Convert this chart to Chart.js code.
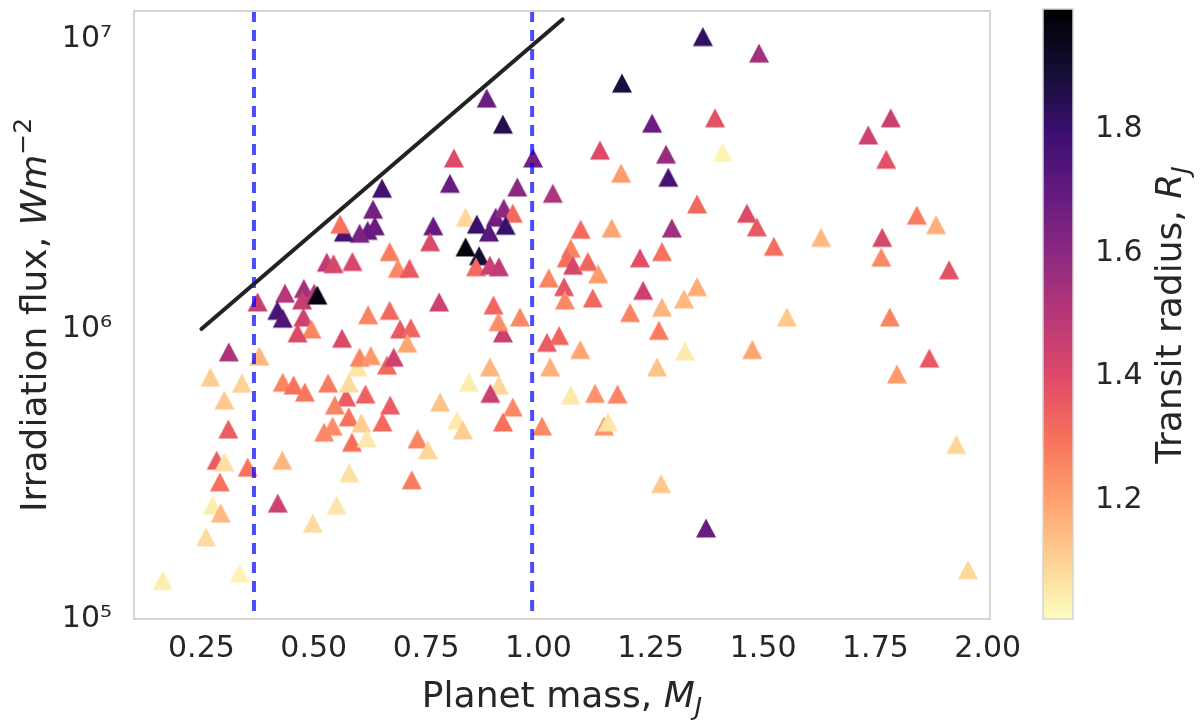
<!DOCTYPE html>
<html>
<head>
<meta charset="utf-8">
<script src="https://cdn.jsdelivr.net/npm/chart.js@4.4.0/dist/chart.umd.min.js"></script>
<style>
  html, body { margin: 0; padding: 0; background: #fff; }
  #wrap { width: 1200px; height: 724px; position: relative; }
</style>
</head>
<body>
<div id="wrap"><canvas id="chart"></canvas></div>
<script>
// planet mass (M_J), irradiation flux (W m^-2), transit radius (R_J)
const massMJ = [
  1.366, 1.491, 1.186, 1.393, 1.253, 0.921, 1.784, 1.734, 1.774, 1.137,
  1.410, 1.284, 0.988, 1.184, 1.289, 0.953, 1.032, 1.353, 1.464, 1.486,
  1.524, 1.629, 1.842, 1.885, 1.765, 1.763, 1.914, 1.782, 1.553, 1.297,
  1.163, 1.094, 1.072, 1.063, 1.077, 1.110, 1.133, 1.226, 1.275, 1.023,
  1.057, 1.059, 1.121, 1.233, 1.353, 1.324, 1.275, 1.204, 1.268, 0.959,
  0.921, 1.019, 1.046, 1.093, 1.326, 1.476, 1.870, 1.798, 1.026, 1.264,
  0.943, 0.921, 1.008, 1.072, 1.126, 1.176, 1.146, 1.155, 1.273, 1.373,
  1.930, 1.956, 0.885, 0.812, 0.803, 0.652, 0.632, 0.636, 0.620, 0.602,
  0.567, 0.559, 0.766, 0.759, 0.838, 0.863, 0.890, 0.905, 0.923, 0.943,
  0.927, 0.838, 0.868, 0.861, 0.892, 0.912, 0.669, 0.687, 0.713, 0.529,
  0.544, 0.586, 0.375, 0.436, 0.478, 0.474, 0.501, 0.508, 0.419, 0.431,
  0.477, 0.495, 0.464, 0.779, 0.621, 0.669, 0.692, 0.716, 0.563, 0.708,
  0.900, 0.911, 0.311, 0.379, 0.270, 0.340, 0.301, 0.310, 0.284, 0.301,
  0.353, 0.291, 0.275, 0.293, 0.260, 0.164, 0.335, 0.431, 0.455, 0.480,
  0.430, 0.420, 0.498, 0.551, 0.579, 0.532, 0.572, 0.547, 0.615, 0.578,
  0.542, 0.523, 0.585, 0.606, 0.618, 0.597, 0.578, 0.602, 0.627, 0.663,
  0.678, 0.670, 0.653, 0.731, 0.754, 0.718, 0.781, 0.819, 0.832, 0.845,
  0.892, 0.912, 0.893
];
const fluxWm2 = [
  1.02e7, 8.95e6, 7.05e6, 5.35e6, 5.13e6, 5.09e6, 5.35e6, 4.67e6, 3.85e6, 4.14e6,
  4.07e6, 4.01e6, 3.89e6, 3.45e6, 3.34e6, 3.09e6, 2.94e6, 2.70e6, 2.51e6, 2.25e6,
  1.93e6, 2.07e6, 2.47e6, 2.29e6, 2.07e6, 1.77e6, 1.60e6, 1.10e6, 1.10e6, 2.23e6,
  2.23e6, 2.21e6, 1.90e6, 1.76e6, 1.66e6, 1.71e6, 1.55e6, 1.76e6, 1.85e6, 1.50e6,
  1.40e6, 1.26e6, 1.28e6, 1.36e6, 1.40e6, 1.27e6, 1.19e6, 1.14e6, 9.9e5, 1.10e6,
  9.7e5, 9.0e5, 9.5e5, 8.5e5, 8.4e5, 8.5e5, 7.94e5, 7.0e5, 7.4e5, 7.4e5,
  5.38e5, 4.78e5, 4.63e5, 5.92e5, 6.0e5, 5.97e5, 4.63e5, 4.78e5, 2.93e5, 2.06e5,
  4.0e5, 1.48e5, 6.26e6, 3.89e6, 3.18e6, 3.06e6, 2.59e6, 2.27e6, 2.19e6, 2.14e6,
  2.16e6, 2.30e6, 2.27e6, 2.0e6, 2.43e6, 2.30e6, 2.16e6, 2.43e6, 2.61e6, 2.51e6,
  2.28e6, 1.92e6, 1.79e6, 1.64e6, 1.66e6, 1.64e6, 1.85e6, 1.62e6, 1.62e6, 1.70e6,
  1.68e6, 1.71e6, 1.24e6, 1.33e6, 1.38e6, 1.26e6, 1.33e6, 1.31e6, 1.16e6, 1.09e6,
  1.10e6, 1.0e6, 9.7e5, 1.24e6, 1.12e6, 1.16e6, 1.0e6, 1.01e6, 9.3e5, 8.95e5,
  1.21e6, 1.06e6, 8.34e5, 8.07e5, 6.83e5, 6.51e5, 5.69e5, 4.52e5, 3.53e5, 3.48e5,
  3.34e5, 2.97e5, 2.47e5, 2.32e5, 1.92e5, 1.36e5, 1.44e5, 6.56e5, 6.41e5, 6.06e5,
  3.53e5, 2.51e5, 2.14e5, 2.47e5, 3.19e5, 6.51e5, 5.83e5, 5.47e5, 5.97e5, 4.98e5,
  4.63e5, 4.41e5, 4.07e5, 4.74e5, 4.21e5, 7.4e5, 6.51e5, 8.0e5, 8.1e5, 7.51e5,
  8.0e5, 5.47e5, 4.78e5, 4.18e5, 3.83e5, 3.02e5, 5.6e5, 4.85e5, 4.49e5, 6.56e5,
  7.4e5, 6.41e5, 6.0e5
];
const radiusRJ = [
  1.82, 1.55, 1.88, 1.38, 1.68, 1.85, 1.45, 1.44, 1.38, 1.40,
  1.03, 1.57, 1.66, 1.21, 1.77, 1.60, 1.52, 1.32, 1.40, 1.36,
  1.31, 1.15, 1.28, 1.17, 1.42, 1.25, 1.38, 1.26, 1.12, 1.55,
  1.19, 1.32, 1.26, 1.31, 1.42, 1.33, 1.21, 1.39, 1.30, 1.26,
  1.37, 1.25, 1.32, 1.44, 1.18, 1.15, 1.16, 1.26, 1.28, 1.25,
  1.45, 1.35, 1.33, 1.19, 1.05, 1.19, 1.36, 1.21, 1.17, 1.13,
  1.25, 1.30, 1.25, 1.05, 1.23, 1.26, 1.23, 1.06, 1.12, 1.68,
  1.09, 1.09, 1.68, 1.40, 1.68, 1.78, 1.66, 1.68, 1.69, 1.64,
  1.76, 1.30, 1.69, 1.40, 1.09, 1.80, 1.72, 1.67, 1.60, 1.32,
  1.80, 1.98, 1.90, 1.32, 1.45, 1.48, 1.28, 1.25, 1.36, 1.48,
  1.42, 1.42, 1.46, 1.50, 1.55, 1.46, 1.50, 1.97, 1.76, 1.75,
  1.44, 1.26, 1.40, 1.44, 1.26, 1.32, 1.36, 1.33, 1.40, 1.19,
  1.33, 1.24, 1.52, 1.16, 1.11, 1.10, 1.12, 1.35, 1.35, 1.07,
  1.30, 1.30, 1.04, 1.15, 1.08, 1.04, 1.03, 1.26, 1.30, 1.29,
  1.16, 1.44, 1.08, 1.06, 1.07, 1.28, 1.35, 1.26, 1.34, 1.30,
  1.24, 1.25, 1.30, 1.11, 1.05, 1.06, 1.08, 1.26, 1.22, 1.32,
  1.44, 1.35, 1.32, 1.26, 1.09, 1.28, 1.13, 1.05, 1.11, 1.04,
  1.16, 1.09, 1.45
];

const massTicks = [0.25, 0.5, 0.75, 1.0, 1.25, 1.5, 1.75, 2.0];
const fluxTicks = [1e5, 1e6, 1e7];
const radiusTicks = [1.2, 1.4, 1.6, 1.8];
const massRange = [0.1, 2.005];
const fluxRange = [1e5, 1.25e7];
const radiusRange = [1.008, 1.991];

// the two dashed mass cuts and the solid upper envelope
const massCuts = [0.367, 0.986];
const envelopeMass = [0.25, 1.054];
const envelopeFlux = [1e6, 1.17e7];

// magma, sampled every 0.1
const magma = [
  [0, 0, 4], [20, 14, 54], [59, 15, 112], [100, 26, 128], [140, 41, 129],
  [183, 55, 121], [222, 73, 104], [247, 112, 92], [254, 159, 109],
  [254, 207, 146], [252, 253, 191]
];

function magmaColor(t) {
  t = Math.min(1, Math.max(0, t)) * 10;
  const i = Math.min(9, Math.floor(t));
  const f = t - i;
  const a = magma[i], b = magma[i + 1];
  const c = a.map((v, k) => Math.round(v + (b[k] - v) * f));
  return `rgb(${c[0]},${c[1]},${c[2]})`;
}

// reversed map: small radius -> pale yellow, large -> black
function radiusColor(r) {
  const n = (r - radiusRange[0]) / (radiusRange[1] - radiusRange[0]);
  return magmaColor(1 - n);
}

// matplotlib-like '^' marker (as wide as it is tall), one sprite per colour
const markerCache = {};
function triangleMarker(color) {
  if (markerCache[color]) return markerCache[color];
  const c = document.createElement('canvas');
  c.width = 22;
  c.height = 22;
  const g = c.getContext('2d');
  g.fillStyle = color;
  g.beginPath();
  g.moveTo(11, 1.5);
  g.lineTo(21, 20.5);
  g.lineTo(1, 20.5);
  g.closePath();
  g.fill();
  markerCache[color] = c;
  return c;
}

const sup = { '0': '⁰', '1': '¹', '2': '²', '3': '³', '4': '⁴', '5': '⁵', '6': '⁶', '7': '⁷', '8': '⁸', '9': '⁹' };
const pow10 = (v) => '10' + String(Math.round(Math.log10(v))).split('').map((c) => sup[c]).join('');

const ink = '#262626';
const frame = '#d4d4d4';
Chart.defaults.font.family = "'DejaVu Sans', sans-serif";
Chart.defaults.color = ink;

// tick padding also feeds the layout padding, so drop that after fitting
function fixBox(prop, size) {
  return (s) => {
    s[prop] = size;
    s.paddingTop = s.paddingBottom = s.paddingLeft = s.paddingRight = 0;
  };
}

// text with italic / sub / superscript pieces, centred on (x, y)
function drawRuns(ctx, runs, x, y, angle) {
  ctx.save();
  ctx.translate(x, y);
  ctx.rotate(angle);
  ctx.fillStyle = ink;
  ctx.textBaseline = 'alphabetic';
  ctx.textAlign = 'left';
  let total = 0;
  runs.forEach((r) => {
    ctx.font = `${r.italic ? 'italic ' : ''}${r.size}px 'DejaVu Sans'`;
    r.w = ctx.measureText(r.t).width;
    total += r.w;
  });
  let cx = -total / 2;
  runs.forEach((r) => {
    ctx.font = `${r.italic ? 'italic ' : ''}${r.size}px 'DejaVu Sans'`;
    ctx.fillText(r.t, cx, r.dy || 0);
    cx += r.w;
  });
  ctx.restore();
}

const decorations = {
  id: 'decorations',
  beforeDraw(chart) {
    const ctx = chart.ctx;
    ctx.save();
    ctx.fillStyle = '#fff';
    ctx.fillRect(0, 0, chart.width, chart.height);
    ctx.restore();
  },
  afterDraw(chart) {
    const ctx = chart.ctx;
    const a = chart.chartArea;
    const cb = chart.scales.cb;

    // plot frame
    ctx.save();
    ctx.strokeStyle = frame;
    ctx.lineWidth = 2;
    ctx.strokeRect(a.left, a.top, a.right - a.left, a.bottom - a.top);

    // colour bar
    const bx = cb.left + 53, bw = 30;
    const g = ctx.createLinearGradient(0, cb.bottom, 0, cb.top);
    for (let s = 0; s <= 10; s++) g.addColorStop(s / 10, magmaColor(1 - s / 10));
    ctx.fillStyle = g;
    ctx.fillRect(bx, cb.top, bw, cb.bottom - cb.top);
    ctx.fillStyle = '#000004';
    ctx.fillRect(bx, cb.top - 2, bw, 2);
    ctx.strokeStyle = frame;
    ctx.lineWidth = 1.5;
    ctx.strokeRect(bx, cb.top - 2, bw, cb.bottom - cb.top + 2);
    ctx.restore();

    // axis titles
    const midX = (a.left + a.right) / 2, midY = (a.top + a.bottom) / 2;
    drawRuns(ctx, [
      { t: 'Planet mass, ', size: 36 },
      { t: 'M', size: 36, italic: true },
      { t: 'J', size: 25, italic: true, dy: 8 }
    ], midX, 707, 0);
    drawRuns(ctx, [
      { t: 'Irradiation flux, ', size: 36 },
      { t: 'Wm', size: 36, italic: true },
      { t: '−2', size: 25, dy: -15 }
    ], 46, midY, -Math.PI / 2);
    drawRuns(ctx, [
      { t: 'Transit radius, ', size: 36 },
      { t: 'R', size: 36, italic: true },
      { t: 'J', size: 25, italic: true, dy: 8 }
    ], 1181, midY, -Math.PI / 2);
  }
};

const points = massMJ.map((m, i) => ({ x: m, y: fluxWm2[i] }));
const pointColors = radiusRJ.map(radiusColor);

new Chart(document.getElementById('chart'), {
  type: 'scatter',
  data: {
    datasets: [
      {
        data: points,
        pointStyle: pointColors.map(triangleMarker),
        pointRadius: 10,
        pointHoverRadius: 10,
        borderWidth: 0,
        backgroundColor: pointColors,
        order: 2
      },
      ...massCuts.map((m) => ({
        type: 'line',
        data: [{ x: m, y: fluxRange[1] }, { x: m, y: fluxRange[0] }],
        borderColor: 'rgba(0,0,255,0.7)',
        borderWidth: 4,
        borderDash: [11, 8],
        pointRadius: 0,
        order: 1
      })),
      {
        type: 'line',
        data: envelopeMass.map((m, i) => ({ x: m, y: envelopeFlux[i] })),
        borderColor: '#222222',
        borderWidth: 4,
        borderCapStyle: 'round',
        pointRadius: 0,
        order: 0
      }
    ]
  },
  options: {
    responsive: true,
    maintainAspectRatio: false,
    animation: false,
    layout: { padding: { top: 11, left: 0, right: 0, bottom: 0 } },
    plugins: {
      legend: { display: false },
      tooltip: { enabled: false }
    },
    scales: {
      x: {
        type: 'linear',
        min: massRange[0],
        max: massRange[1],
        grid: { display: false, drawTicks: false },
        border: { display: false },
        afterBuildTicks: (s) => { s.ticks = massTicks.map((v) => ({ value: v })); },
        afterFit: fixBox('height', 105),
        ticks: {
          padding: 12,
          maxRotation: 0,
          font: { size: 30 },
          callback: (v) => Number(v).toFixed(2)
        }
      },
      y: {
        type: 'logarithmic',
        min: fluxRange[0],
        max: fluxRange[1],
        grid: { display: false, drawTicks: false },
        border: { display: false },
        afterBuildTicks: (s) => { s.ticks = fluxTicks.map((v) => ({ value: v })); },
        afterFit: fixBox('width', 134),
        ticks: {
          padding: 22,
          font: { size: 30 },
          callback: (v) => pow10(v)
        }
      },
      cb: {
        type: 'linear',
        position: 'right',
        min: radiusRange[0],
        max: radiusRange[1],
        grid: { display: false, drawTicks: false },
        border: { display: false },
        afterBuildTicks: (s) => { s.ticks = radiusTicks.map((v) => ({ value: v })); },
        afterFit: fixBox('width', 210),
        ticks: {
          padding: 105,
          font: { size: 30 },
          callback: (v) => Number(v).toFixed(1)
        }
      }
    }
  },
  plugins: [decorations]
});
</script>
</body>
</html>
